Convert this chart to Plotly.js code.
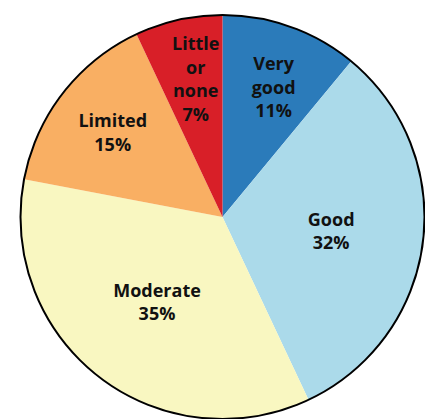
<!DOCTYPE html>
<html>
<head>
<meta charset="utf-8">
<script src="https://cdn.plot.ly/plotly-3.0.1.min.js"></script>
<style>html,body{margin:0;padding:0;background:#fff;}#chart{width:425px;height:419px;}</style>
</head>
<body>
<div id="chart"></div>
<script>
var categories = ["Very good", "Good", "Moderate", "Limited", "Little or none"];
var displayLabels = ["Very<br>good", "Good", "Moderate", "Limited", "Little<br>or<br>none"];
var shares = [11, 32, 35, 15, 7];
var colors = ["#2b7bba", "#abdaea", "#f9f7c1", "#f9af63", "#d81f28"];
// blank lines above / spaces before a label nudge it to where the original puts it
var leadPad = [1, 0, 0, 0, 2];
var sidePad = [0, 0, 0, 0, 4];

var textLabels = displayLabels.map(function (l, i) {
  var pad = "";
  for (var k = 0; k < leadPad[i]; k++) pad += "\u00a0<br>";
  var sp = "";
  for (var s = 0; s < sidePad[i]; s++) sp += "\u00a0";
  var lines = (l + "<br>" + shares[i] + "%").split("<br>").map(function (t) { return sp + t; });
  return pad + "<b>" + lines.join("<br>") + "</b>";
});

var pie = {
  type: "pie",
  labels: categories,
  values: shares,
  text: textLabels,
  textinfo: "text",
  textposition: "inside",
  insidetextorientation: "horizontal",
  insidetextfont: {family: "Open Sans, sans-serif", size: 18, color: "#111"},
  marker: {colors: colors, line: {width: 0}},
  sort: false,
  direction: "clockwise",
  rotation: 0,
  hoverinfo: "skip",
  showlegend: false
};

var outline = {
  type: "pie",
  values: [1],
  labels: ["outline"],
  textinfo: "none",
  marker: {colors: ["rgba(0,0,0,0)"], line: {color: "#000", width: 2}},
  hoverinfo: "skip",
  showlegend: false
};

var layout = {
  width: 425,
  height: 419,
  margin: {l: 20, r: 0, t: 15, b: 0},
  paper_bgcolor: "#fff",
  showlegend: false,
  uniformtext: {mode: "show", minsize: 18}
};

Plotly.newPlot("chart", [pie, outline], layout, {staticPlot: true, displayModeBar: false});
</script>
</body>
</html>
